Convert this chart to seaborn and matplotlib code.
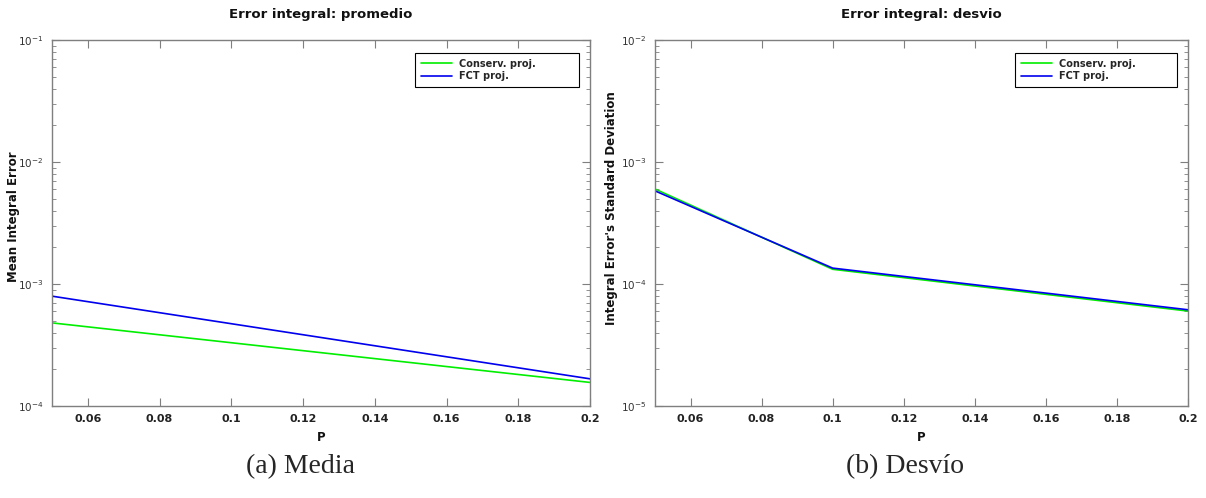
import numpy as np
import pandas as pd
import matplotlib
matplotlib.use("Agg")
import matplotlib.pyplot as plt
import seaborn as sns
from matplotlib.ticker import FixedLocator, FuncFormatter, LogLocator, NullFormatter

# ---- data ----
series = ["Conserv. proj.", "FCT proj."]
p_mean = [0.05, 0.2]
mean_conserv = [4.8e-4, 1.56e-4]
mean_fct = [7.95e-4, 1.67e-4]

p_std = [0.05, 0.1, 0.2]
std_conserv = [6.0e-4, 1.32e-4, 6.0e-5]
std_fct = [5.8e-4, 1.35e-4, 6.15e-5]

xticks = [0.06, 0.08, 0.1, 0.12, 0.14, 0.16, 0.18, 0.2]
titles = ["Error integral: promedio", "Error integral: desvio"]
ylabels = ["Mean Integral Error", "Integral Error's Standard Deviation"]
captions = ["(a) Media", "(b) Desvío"]
ylims = [(1e-4, 1e-1), (1e-5, 1e-2)]

colors = {"Conserv. proj.": "#00ee00", "FCT proj.": "#0000ee"}

sns.set_theme(style="ticks")
plt.rcParams['font.family'] = ['DejaVu Sans']

fig = plt.figure(figsize=(12.06, 4.98), dpi=100)
ax1 = fig.add_axes([52/1206, 92/498, 538/1206, 366/498])
ax2 = fig.add_axes([655/1206, 92/498, 533/1206, 366/498])

df1 = pd.DataFrame({"P": p_mean * 2, "err": mean_conserv + mean_fct,
                    "method": [series[0]] * len(p_mean) + [series[1]] * len(p_mean)})
df2 = pd.DataFrame({"P": p_std * 2, "err": std_conserv + std_fct,
                    "method": [series[0]] * len(p_std) + [series[1]] * len(p_std)})

spine_col = "#7f7f7f"
label_xy = [((20 - 52) / 538, 0.518), ((618 - 655) / 533, 0.54)]
for i, (ax, df) in enumerate([(ax1, df1), (ax2, df2)]):
    sns.lineplot(data=df, x="P", y="err", hue="method", palette=colors,
                 hue_order=series, ax=ax, linewidth=1.2, estimator=None, sort=True)
    ax.set_yscale("log")
    ax.set_xlim(0.05, 0.2)
    ax.set_ylim(*ylims[i])
    ax.xaxis.set_major_locator(FixedLocator(xticks))
    ax.xaxis.set_major_formatter(FuncFormatter(lambda v, pos: f"{v:g}"))
    ax.yaxis.set_major_locator(LogLocator(base=10, numticks=10))
    ax.yaxis.set_minor_locator(LogLocator(base=10, subs=np.arange(2, 10), numticks=20))
    ax.yaxis.set_minor_formatter(NullFormatter())
    ax.tick_params(axis="both", which="both", direction="in", top=True, right=True,
                   colors=spine_col, labelcolor="#333333")
    ax.tick_params(axis="both", which="major", length=6, width=0.8, labelsize=8)
    ax.tick_params(axis="y", which="major", pad=6, labelsize=7.5)
    ax.tick_params(axis="x", which="major", pad=6)
    ax.tick_params(axis="y", which="minor", length=3, width=0.6)
    for lbl in ax.get_xticklabels():
        lbl.set_fontweight("bold")
        lbl.set_color("#222222")
    for s in ax.spines.values():
        s.set_visible(True)
        s.set_color(spine_col)
        s.set_linewidth(1.0)
    ax.set_title(titles[i], fontsize=9.5, fontweight="bold", pad=16, color="#111111")
    ax.set_xlabel("P", fontsize=8.5, fontweight="bold", color="#111111", labelpad=5)
    ax.set_ylabel(ylabels[i], fontsize=8.5, fontweight="bold", color="#111111")
    ax.yaxis.set_label_coords(*label_xy[i])
    leg = ax.legend(loc="upper left", bbox_to_anchor=(0.675, 0.874, 0.304, 0.0905),
                    mode="expand", fancybox=False,
                    framealpha=1, edgecolor="black", prop={"size": 7, "weight": "bold"},
                    handlelength=3.2, handletextpad=0.7, borderpad=0.6,
                    labelspacing=0.25, borderaxespad=0)
    leg.get_frame().set_linewidth(0.8)

fig.text(300/1206, 1 - 467/498, captions[0], ha="center", va="center",
         fontsize=20, family="Liberation Serif")
fig.text(905/1206, 1 - 467/498, captions[1], ha="center", va="center",
         fontsize=20, family="Liberation Serif")

fig.savefig("out.png", dpi=100)
